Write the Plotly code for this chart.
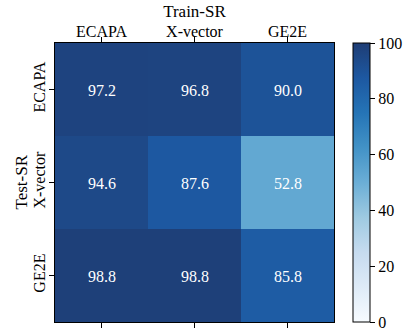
import plotly.graph_objects as go

train_models = ["ECAPA", "X-vector", "GE2E"]
test_models = ["ECAPA", "X-vector", "GE2E"]
# rows: Test-SR, columns: Train-SR
scores = [
    [97.2, 96.8, 90.0],
    [94.6, 87.6, 52.8],
    [98.8, 98.8, 85.8],
]
cbar_ticks = [0, 20, 40, 60, 80, 100]

font = "Liberation Serif, Times New Roman, serif"
PLOT_W = 404 - 55 - 70

# Blues ramp, with the darkest stops slightly softened
blues = [
    [0.0, "#f7fbff"],
    [0.125, "#deebf7"],
    [0.25, "#c6dbef"],
    [0.375, "#9ecae1"],
    [0.5, "#6baed6"],
    [0.625, "#4292c6"],
    [0.75, "#2574b6"],
    [0.875, "#1d58a1"],
    [1.0, "#1e3d75"],
]

fig = go.Figure(
    go.Heatmap(
        z=scores,
        x=train_models,
        y=test_models,
        colorscale=blues,
        zmin=0,
        zmax=100,
        text=[[f"{v:.1f}" for v in row] for row in scores],
        texttemplate="%{text}",
        textfont=dict(family=font, size=16, color="white"),
        colorbar=dict(
            x=1.068,
            xanchor="left",
            xpad=0,
            y=0.5,
            yanchor="middle",
            ypad=0,
            len=1.0,
            lenmode="fraction",
            thickness=17,
            outlinewidth=1,
            outlinecolor="black",
            tickvals=cbar_ticks,
            ticks="outside",
            ticklen=5,
            tickcolor="black",
            tickfont=dict(family=font, size=16, color="black"),
        ),
    )
)

fig.update_layout(
    width=404,
    height=332,
    margin=dict(l=55, r=70, t=43, b=10, autoexpand=False),
    paper_bgcolor="white",
    plot_bgcolor="white",
    font=dict(family=font, size=16, color="black"),
    xaxis=dict(
        side="top",
        automargin=False,
        ticks="outside",
        ticklen=5,
        tickcolor="black",
        ticklabelstandoff=-6,
        showline=True,
        linecolor="black",
        linewidth=1,
        mirror="ticks",
        tickfont=dict(family=font, size=16),
        title=dict(text="Train-SR", font=dict(family=font, size=17), standoff=0),
    ),
    yaxis=dict(
        autorange="reversed",
        automargin=False,
        ticks="outside",
        ticklen=5,
        tickcolor="black",
        ticklabelstandoff=-2,
        showline=True,
        linecolor="black",
        linewidth=1,
        mirror=True,
        tickangle=-90,
        tickfont=dict(family=font, size=16),
    ),
    annotations=[
        dict(
            text="Test-SR",
            xref="paper",
            yref="paper",
            x=(21 - 55) / PLOT_W,
            y=0.5,
            xanchor="center",
            yanchor="middle",
            textangle=-90,
            showarrow=False,
            font=dict(family=font, size=17, color="black"),
        )
    ],
)

fig.write_html("out.html")
